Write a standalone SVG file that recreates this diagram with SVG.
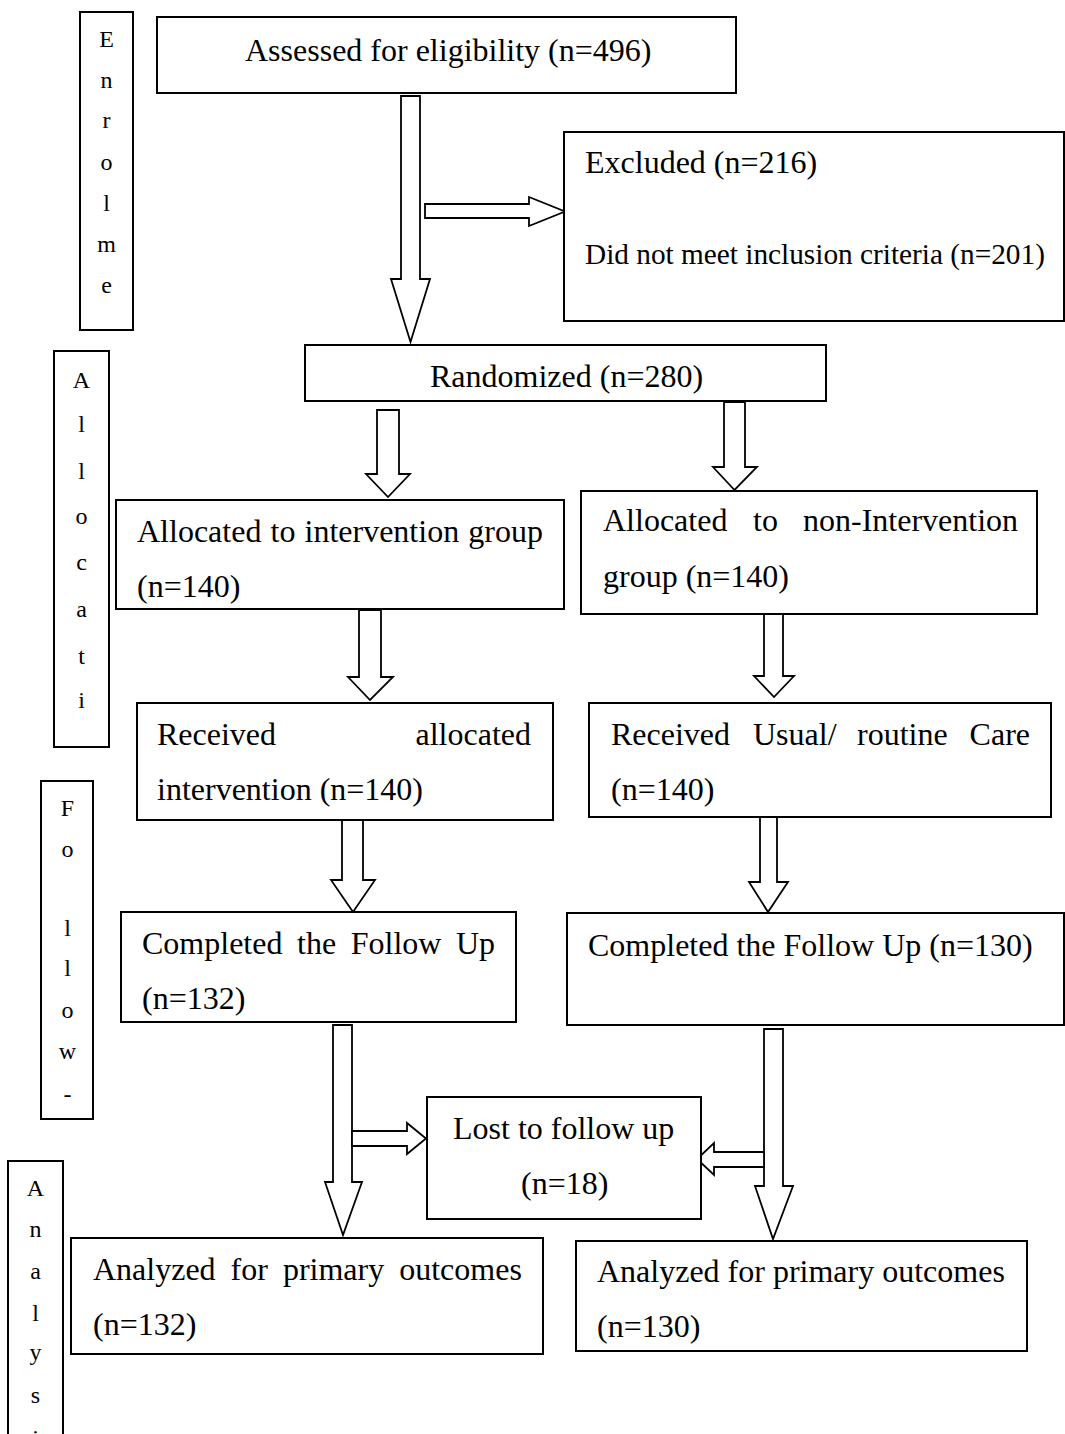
<svg xmlns="http://www.w3.org/2000/svg" width="1065" height="1434" viewBox="0 0 1065 1434">
<style>
.box{fill:#fff;stroke:#000;stroke-width:2}
.arr{fill:#fff;stroke:#000;stroke-width:1.8;stroke-linejoin:miter}
.t{font-family:"Liberation Serif","Times New Roman",serif;font-size:32px;fill:#000}
.s{font-family:"Liberation Serif","Times New Roman",serif;font-size:24px;fill:#000;text-anchor:middle}
</style>
<rect width="1065" height="1434" fill="#fff"/>
<g id="side-enrolment">
<rect class="box" x="80" y="12" width="53" height="318"/>
<text class="s"><tspan x="106.5" y="47">E</tspan><tspan x="106.5" y="88">n</tspan><tspan x="106.5" y="128">r</tspan><tspan x="106.5" y="170">o</tspan><tspan x="106.5" y="211">l</tspan><tspan x="106.5" y="252">m</tspan><tspan x="106.5" y="293">e</tspan></text>
</g>
<g id="side-allocation">
<rect class="box" x="54" y="351" width="55" height="396"/>
<text class="s"><tspan x="81.5" y="388">A</tspan><tspan x="81.5" y="432">l</tspan><tspan x="81.5" y="479">l</tspan><tspan x="81.5" y="524">o</tspan><tspan x="81.5" y="570">c</tspan><tspan x="81.5" y="617">a</tspan><tspan x="81.5" y="664">t</tspan><tspan x="81.5" y="708">i</tspan></text>
</g>
<g id="side-follow">
<rect class="box" x="41" y="781" width="52" height="338"/>
<text class="s"><tspan x="67.5" y="816">F</tspan><tspan x="67.5" y="857">o</tspan><tspan x="67.5" y="936">l</tspan><tspan x="67.5" y="976">l</tspan><tspan x="67.5" y="1018">o</tspan><tspan x="67.5" y="1059">w</tspan><tspan x="67.5" y="1102">-</tspan></text>
</g>
<g id="side-analysis">
<rect class="box" x="8" y="1161" width="55" height="290"/>
<text class="s"><tspan x="35.5" y="1196">A</tspan><tspan x="35.5" y="1237">n</tspan><tspan x="35.5" y="1279">a</tspan><tspan x="35.5" y="1321">l</tspan><tspan x="35.5" y="1360">y</tspan><tspan x="35.5" y="1403">s</tspan><tspan x="35.5" y="1446">i</tspan></text>
</g>
<g id="connectors">
<polygon class="arr" points="401,96 420,96 420,279 430,279 410.5,342 391,279 401,279"/>
<polygon class="arr" points="425,204 529,204 529,197 565,211.5 529,226 529,218 425,218"/>
<polygon class="arr" points="377,410 399,410 399,474 410,474 388,497 366,474 377,474"/>
<polygon class="arr" points="724,402 745,402 745,467 757,467 734.5,490 713,467 724,467"/>
<polygon class="arr" points="359,610 381,610 381,677 393,677 370,700 348,677 359,677"/>
<polygon class="arr" points="764,614 783,614 783,676 794,676 774,697 754,676 764,676"/>
<polygon class="arr" points="342,820 363,820 363,880 375,880 353,912 331,880 342,880"/>
<polygon class="arr" points="760,817 777,817 777,882 788,882 768,912 749,882 760,882"/>
<polygon class="arr" points="333,1025 352,1025 352,1182 362,1182 343,1235 325,1182 333,1182"/>
<polygon class="arr" points="764,1029 783,1029 783,1186 793,1186 773,1239 755,1186 764,1186"/>
<polygon class="arr" points="352,1131 407,1131 407,1123 426,1138.5 407,1154 407,1146 352,1146"/>
<polygon class="arr" points="764,1152 714,1152 714,1143 697,1159 714,1175 714,1167 764,1167"/>
</g>
<g id="assessed">
<rect class="box" x="157" y="17" width="579" height="76"/>
<text class="t" x="245" y="61">Assessed for eligibility (n=496)</text>
</g>
<g id="excluded">
<rect class="box" x="564" y="132" width="500" height="189"/>
<text class="t" x="585" y="173">Excluded (n=216)</text>
<text class="t" x="585" y="264" style="font-size:29.3px">Did not meet inclusion criteria (n=201)</text>
</g>
<g id="randomized">
<rect class="box" x="305" y="345" width="521" height="56"/>
<text class="t" x="430" y="387">Randomized (n=280)</text>
</g>
<g id="alloc-intervention">
<rect class="box" x="116" y="500" width="448" height="109"/>
<text class="t" y="542"><tspan x="137">Allocated</tspan><tspan x="270.5">to</tspan><tspan x="304.5">intervention</tspan><tspan x="468.3">group</tspan></text>
<text class="t" x="137" y="597">(n=140)</text>
</g>
<g id="alloc-non-intervention">
<rect class="box" x="581" y="491" width="456" height="123"/>
<text class="t" y="531"><tspan x="603">Allocated</tspan><tspan x="753">to</tspan><tspan x="803">non-Intervention</tspan></text>
<text class="t" x="603" y="587">group (n=140)</text>
</g>
<g id="received-intervention">
<rect class="box" x="137" y="703" width="416" height="117"/>
<text class="t" x="157" y="745">Received</text>
<text class="t" x="531" y="745" text-anchor="end">allocated</text>
<text class="t" x="157" y="800">intervention (n=140)</text>
</g>
<g id="received-usual">
<rect class="box" x="589" y="703" width="462" height="114"/>
<text class="t" y="745"><tspan x="611">Received</tspan><tspan x="753">Usual/</tspan><tspan x="857">routine</tspan></text>
<text class="t" x="1030" y="745" text-anchor="end">Care</text>
<text class="t" x="611" y="800">(n=140)</text>
</g>
<g id="completed-left">
<rect class="box" x="121" y="912" width="395" height="110"/>
<text class="t" y="954"><tspan x="142">Completed</tspan><tspan x="297">the</tspan><tspan x="350.7">Follow</tspan><tspan x="456">Up</tspan></text>
<text class="t" x="142" y="1009">(n=132)</text>
</g>
<g id="completed-right">
<rect class="box" x="567" y="913" width="497" height="112"/>
<text class="t" x="588" y="956">Completed the Follow Up (n=130)</text>
</g>
<g id="lost">
<rect class="box" x="427" y="1097" width="274" height="122"/>
<text class="t" x="453" y="1139">Lost to follow up</text>
<text class="t" x="521" y="1194">(n=18)</text>
</g>
<g id="analyzed-left">
<rect class="box" x="71" y="1238" width="472" height="116"/>
<text class="t" y="1280"><tspan x="93">Analyzed</tspan><tspan x="230.6">for</tspan><tspan x="282.9">primary</tspan><tspan x="399.2">outcomes</tspan></text>
<text class="t" x="93" y="1335">(n=132)</text>
</g>
<g id="analyzed-right">
<rect class="box" x="576" y="1241" width="451" height="110"/>
<text class="t" x="597" y="1282">Analyzed for primary outcomes</text>
<text class="t" x="597" y="1337">(n=130)</text>
</g>
</svg>
